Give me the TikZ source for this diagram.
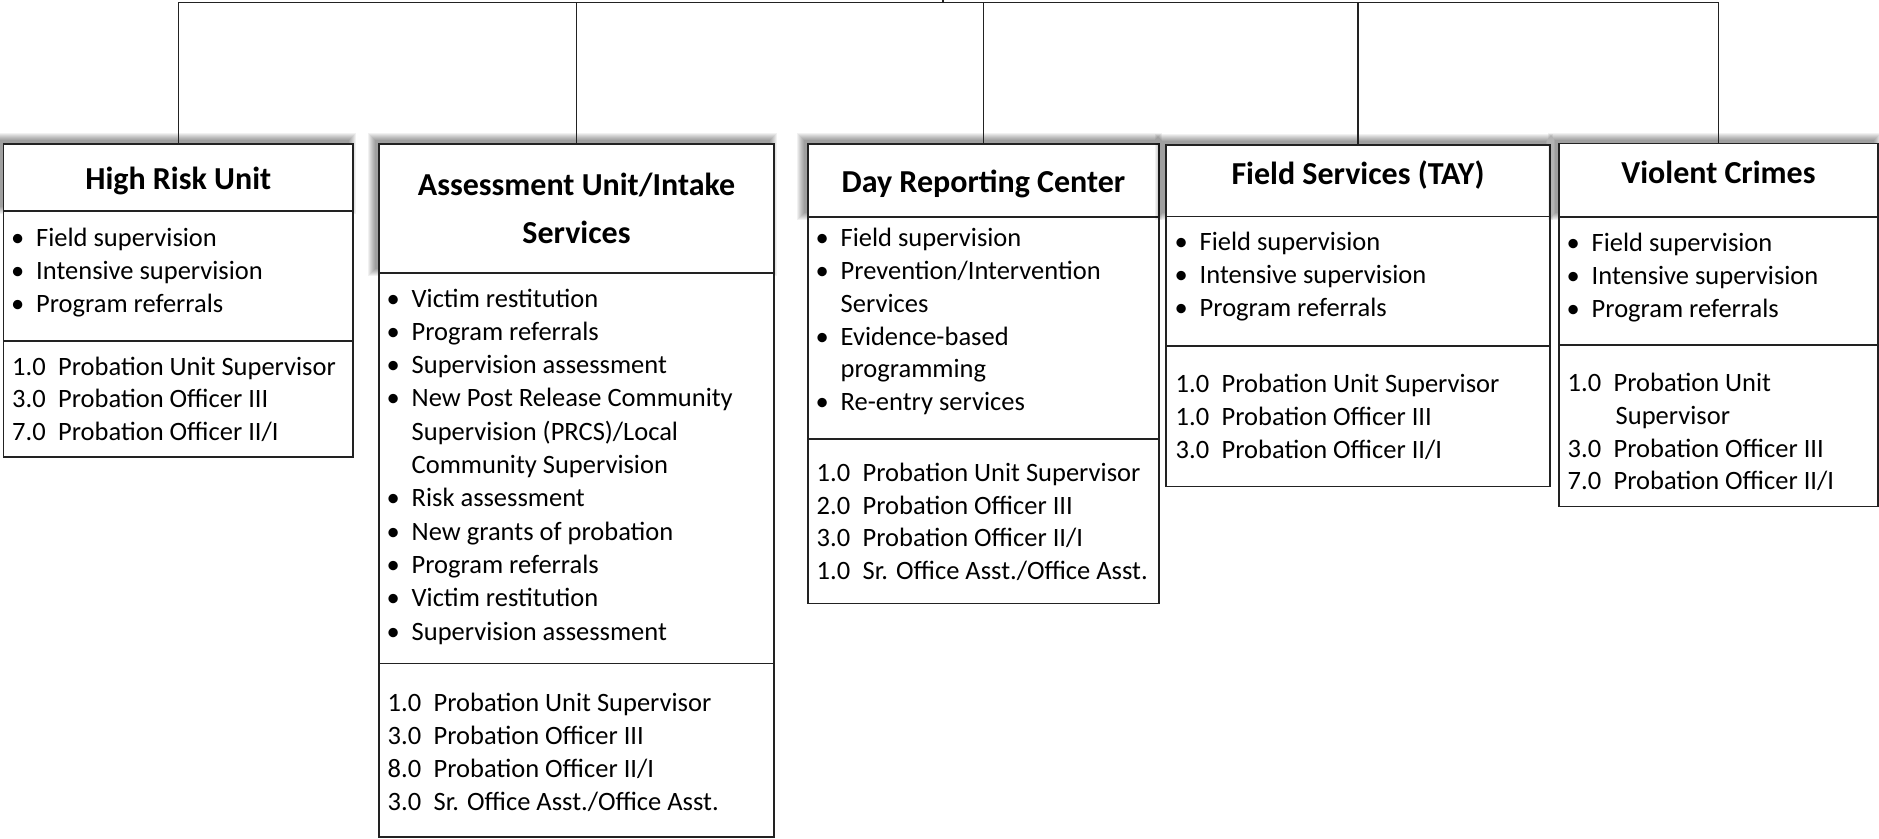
\documentclass[tikz,border=0pt]{standalone}
\usepackage{fontspec}
\setmainfont{Carlito}
\definecolor{edge}{HTML}{222222}
\newcommand\bul[1]{\makebox[25pt][l]{\textbullet}#1}
\newcommand\cont[1]{\hspace*{25pt}#1}
\newcommand\stf[2]{\makebox[46pt][l]{#1}#2}
\newcommand\scont[1]{\hspace*{48pt}#1}
\newcommand\bodyfont[1]{\fontsize{26.5}{#1}\selectfont}
% name, L, T, R, H1, H2, B
\newcommand\unitbox[7]{%
  \foreach \k in {0,...,7} {\fill[black, opacity=0.055] ({#2-4-\k},{#3-4-\k}) rectangle ({#4-4+\k},{#5-4+\k});}
  \node[boxpart, minimum width={(#4-#2)*1pt}, minimum height={(#5-#3)*1pt}] (#1h) at (#2,#3) {};
  \node[boxpart, minimum width={(#4-#2)*1pt}, minimum height={(#6-#5)*1pt}] (#1l) at (#2,#5) {};
  \node[boxpart, minimum width={(#4-#2)*1pt}, minimum height={(#7-#6)*1pt}] (#1s) at (#2,#6) {};
}
\begin{document}
\begin{tikzpicture}[x=1pt,y=-1pt,
  boxpart/.style={draw=edge, line width=1.5pt, fill=white, inner sep=0pt, outer sep=0pt, anchor=north west},
  link/.style={draw=edge, line width=1.2pt},
  ttl/.style={font=\fontsize{32}{48}\selectfont\bfseries, anchor=base, inner sep=0pt},
  txt/.style={anchor=base west, inner sep=0pt}
]
\useasboundingbox (0,0) rectangle (1879,838);
\fill[white] (0,0) rectangle (1879,838);

\unitbox{a}{3.5}{144}{353}{211}{341}{457}
\unitbox{b}{379}{144}{774}{273}{663.5}{837}
\unitbox{c}{808}{144}{1159}{217}{439}{603.5}
\unitbox{d}{1166}{145}{1550}{216.5}{346}{486.5}
\unitbox{e}{1559}{143.5}{1878}{217}{345}{506.5}

% connectors
\coordinate (junction) at (943,2.5);
\coordinate (parent) at (943,0);
\draw[link] (junction) -- (parent);
\draw[link] (ah.north) -- (ah.north |- junction) -- (eh.north |- junction) -- (eh.north);
\draw[link] (bh.north) -- (bh.north |- junction);
\draw[link] (ch.north) -- (ch.north |- junction);
\draw[link] (dh.north) -- (dh.north |- junction);

% titles
\node[ttl] (at) at (178.25,189) {High Risk Unit};
\node[ttl] (bt1) at (576.5,195) {Assessment Unit/Intake};
\node[ttl] (bt2) at (576.5,243) {Services};
\node[ttl] (ct) at (983.5,192) {Day Reporting Center};
\node[ttl] (dt) at (1358,184) {Field Services (TAY)};
\node[ttl] (et) at (1718.5,183) {Violent Crimes};

% High Risk Unit
\node[txt] (al) at (11,246) {\parbox[t]{340pt}{\bodyfont{33}%
  \bul{Field supervision}\\
  \bul{Intensive supervision}\\
  \bul{Program referrals}}};
\node[txt] (as) at (12,375) {\parbox[t]{340pt}{\bodyfont{32.5}%
  \stf{1.0}{Probation Unit Supervisor}\\
  \stf{3.0}{Probation Officer III}\\
  \stf{7.0}{Probation Officer II/I}}};

% Assessment Unit
\node[txt] (bl) at (386.5,307) {\parbox[t]{380pt}{\bodyfont{33.3}%
  \bul{Victim restitution}\\
  \bul{Program referrals}\\
  \bul{Supervision assessment}\\
  \bul{New Post Release Community}\\
  \cont{Supervision (PRCS)/Local}\\
  \cont{Community Supervision}\\
  \bul{Risk assessment}\\
  \bul{New grants of probation}\\
  \bul{Program referrals}\\
  \bul{Victim restitution}\\
  \bul{Supervision assessment}}};
\node[txt] (bs) at (387.5,711) {\parbox[t]{380pt}{\bodyfont{33}%
  \stf{1.0}{Probation Unit Supervisor}\\
  \stf{3.0}{Probation Officer III}\\
  \stf{8.0}{Probation Officer II/I}\\
  \stf{3.0}{Sr. Office Asst./Office Asst.}}};

% Day Reporting Center
\node[txt] (cl) at (815.5,246.7) {\parbox[t]{340pt}{\bodyfont{32.8}%
  \bul{Field supervision}\\
  \bul{Prevention/Intervention}\\
  \cont{Services}\\
  \bul{Evidence-based}\\
  \cont{programming}\\
  \bul{Re-entry services}}};
\node[txt] (cs) at (816.5,481.7) {\parbox[t]{340pt}{\bodyfont{32.5}%
  \stf{1.0}{Probation Unit Supervisor}\\
  \stf{2.0}{Probation Officer III}\\
  \stf{3.0}{Probation Officer II/I}\\
  \stf{1.0}{Sr. Office Asst./Office Asst.}}};

% Field Services (TAY)
\node[txt] (dl) at (1174.5,250) {\parbox[t]{370pt}{\bodyfont{33}%
  \bul{Field supervision}\\
  \bul{Intensive supervision}\\
  \bul{Program referrals}}};
\node[txt] (ds) at (1175.5,392) {\parbox[t]{370pt}{\bodyfont{33}%
  \stf{1.0}{Probation Unit Supervisor}\\
  \stf{1.0}{Probation Officer III}\\
  \stf{3.0}{Probation Officer II/I}}};

% Violent Crimes
\node[txt] (el) at (1566.5,251.5) {\parbox[t]{300pt}{\bodyfont{33.2}%
  \bul{Field supervision}\\
  \bul{Intensive supervision}\\
  \bul{Program referrals}}};
\node[txt] (es) at (1567.5,391.5) {\parbox[t]{300pt}{\bodyfont{32.8}%
  \stf{1.0}{Probation Unit}\\
  \scont{Supervisor}\\
  \stf{3.0}{Probation Officer III}\\
  \stf{7.0}{Probation Officer II/I}}};
\end{tikzpicture}
\end{document}
